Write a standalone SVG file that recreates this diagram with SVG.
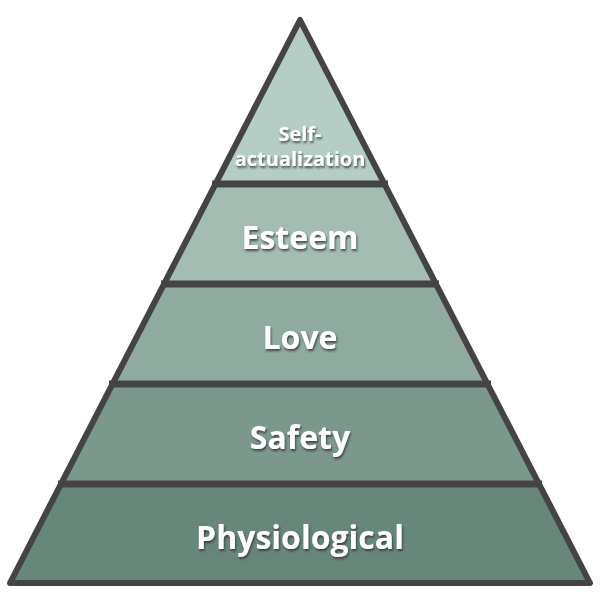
<svg xmlns="http://www.w3.org/2000/svg" width="600" height="600" viewBox="0 0 600 600">
<defs>
<filter id="sh" x="-10%" y="-20%" width="120%" height="150%">
<feDropShadow dx="1" dy="2" stdDeviation="1" flood-color="#333" flood-opacity="0.8"/>
</filter>
<style>
.lbl{font-family:"Open Sans","Noto Sans","Liberation Sans",sans-serif;font-weight:bold;fill:#fff;text-anchor:middle;filter:url(#sh)}
.big{font-size:32px}
.small{font-size:20px}
.sep{stroke:#444;stroke-width:7;fill:none}
</style>
</defs>
<rect width="600" height="600" fill="#fff"/>
<g id="self-actualization">
<polygon points="300,20 384.5,184 215.5,184" fill="#b5cdc5"/>
<text class="lbl small" x="300" y="141">Self-</text>
<text class="lbl small" x="300" y="166">actualization</text>
</g>
<g id="esteem">
<polygon points="215.5,184 384.5,184 436,284 164,284" fill="#a3bdb3"/>
<text class="lbl big" x="300" y="249">Esteem</text>
</g>
<g id="love">
<polygon points="164,284 436,284 487.5,384 112.5,384" fill="#8faa9f"/>
<text class="lbl big" x="300" y="349">Love</text>
</g>
<g id="safety">
<polygon points="112.5,384 487.5,384 539,484 61,484" fill="#7b988c"/>
<text class="lbl big" x="300" y="449">Safety</text>
</g>
<g id="physiological">
<polygon points="61,484 539,484 590,583 10,583" fill="#67877b"/>
<text class="lbl big" x="300" y="549">Physiological</text>
</g>
<g id="connectors">
<line class="sep" x1="212" y1="184" x2="388" y2="184"/>
<line class="sep" x1="161" y1="284" x2="439" y2="284"/>
<line class="sep" x1="109" y1="384" x2="491" y2="384"/>
<line class="sep" x1="58" y1="484" x2="542" y2="484"/>
<polygon points="300,20 590,583 10,583" fill="none" stroke="#444" stroke-width="6" stroke-linejoin="round"/>
</g>
</svg>
